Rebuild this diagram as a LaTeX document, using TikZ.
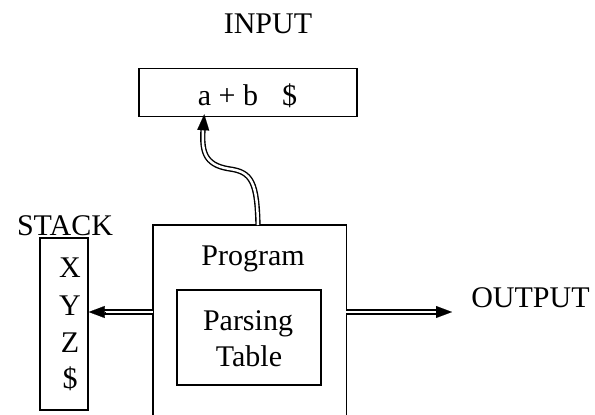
\documentclass[tikz,border=0pt]{standalone}
\usepackage{fontspec}
\setmainfont{Liberation Serif}
\usetikzlibrary{calc,arrows.meta}
\tikzset{
	box/.style={draw, line width=1.5pt, inner sep=0pt},
	lbl/.style={inner sep=0pt, anchor=base},
	dbl/.style={double, double distance=2.5pt, line width=1.4pt, shorten >=10pt},
	head/.style={line width=0.1pt, -{Triangle[length=16pt,width=12pt]}},
}

\begin{document}
\begin{tikzpicture}[x=1pt, y=-1pt, font=\fontsize{30}{36}\selectfont]
			%%%%% START %%%%%
			\useasboundingbox (0, 0) rectangle (595, 415);
			
			\node[lbl] (inlbl) at (268, 33) {INPUT};
			\node[box, minimum width=218, minimum height=48] (input) at (248, 92.5) {};
			\node[lbl] (tape) at (247.5, 105) {a + b\hspace{0.8em}\$};
			
			\node[lbl] (stklbl) at (65, 235) {STACK};
			\node[box, minimum width=48, minimum height=172] (stack) at (64, 324) {};
			\node[lbl] (sx) at (70, 277) {X};
			\node[lbl] (sy) at (70, 315) {Y};
			\node[lbl] (sz) at (70, 352) {Z};
			\node[lbl] (sd) at (70, 388) {\$};
			
			% program box, its bottom runs off the page
			\node[inner sep=0pt, minimum width=193, minimum height=190, anchor=north west] (prog) at (153, 225) {};
			\draw[line width=1.5pt] (prog.south west) |- (prog.north east) -- (prog.south east);
			\node[lbl] (proglbl) at (253, 265) {Program};
			
			\node[box, minimum width=144, minimum height=95, anchor=north west] (table) at (176, 289) {};
			\node[lbl] (t1) at (248, 330) {Parsing};
			\node[lbl] (t2) at (249, 366) {Table};
			
			\node[lbl] (output) at (530.5, 307) {OUTPUT};
			\coordinate (outtip) at (452, 312);
			\coordinate (intip) at ($(input.south west)+(66, -3)$);
			
			% double shafts, then the heads on their own
			\draw[dbl] ($(prog.north west)+(105, 0)$) .. controls +(-1, -42) and +(22, 3) .. (230, 169)
				.. controls +(-27, -4) and +(-3, 36) .. (intip);
			\draw[head] ($(intip)+(-1, 16)$) -- (intip);
			\draw[dbl] (prog.west |- 0, 312) -- (stack.east |- 0, 312);
			\draw[head] ($(stack.east |- 0, 312)+(16, 0)$) -- (stack.east |- 0, 312);
			\draw[dbl] (prog.east |- 0, 312) -- (outtip);
			\draw[head] ($(outtip)+(-16, 0)$) -- (outtip);
			
			%%%%% END %%%%%
		\end{tikzpicture}
\end{document}
